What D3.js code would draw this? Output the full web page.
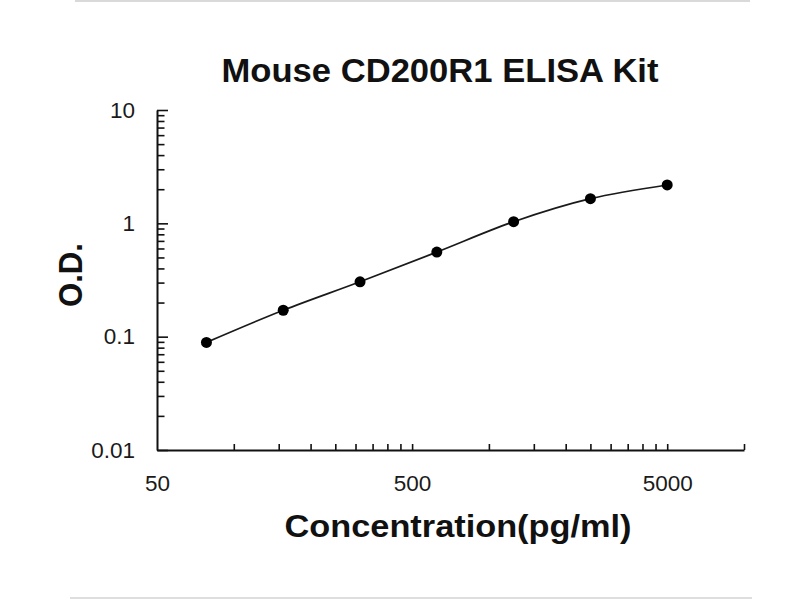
<!DOCTYPE html>
<html>
<head>
<meta charset="utf-8">
<script src="https://cdn.jsdelivr.net/npm/d3@7"></script>
<style>
  body { margin: 0; background: #fff; }
  svg { display: block; }
</style>
</head>
<body>
<div id="chart"></div>
<script>
// standard curve: concentration (pg/ml) vs O.D.
const concentrations = [78.125, 156.25, 312.5, 625, 1250, 2500, 5000];
const odValues = [0.089, 0.171, 0.305, 0.558, 1.033, 1.65, 2.18];

const xTickLabels = [50, 500, 5000];
const yTickLabels = [0.01, 0.1, 1, 10];

const W = 800, H = 600;
const margin = {top: 110, right: 56, bottom: 150, left: 157};

const svg = d3.select("#chart")
    .append("svg")
    .attr("width", W)
    .attr("height", H);

// faint frame lines of the original picture
svg.append("line")
    .attr("x1", 75).attr("x2", 750).attr("y1", 1).attr("y2", 1)
    .attr("stroke", "#d9d9d9").attr("stroke-width", 2);
svg.append("line")
    .attr("x1", 70).attr("x2", 752).attr("y1", 598).attr("y2", 598)
    .attr("stroke", "#dedede").attr("stroke-width", 2);

const x = d3.scaleLog()
    .domain([50, 10000])
    .range([margin.left, W - margin.right]);

const y = d3.scaleLog()
    .domain([0.01, 10])
    .range([H - margin.bottom, margin.top]);

// minor tick positions from the label decades
const xMinor = [];
xTickLabels.forEach(d => {
    for (let k = 2; k <= 10; k++) {
        const v = d * k;
        if (v <= 10000) xMinor.push(v);
    }
});
const yMinor = [];
yTickLabels.slice(0, -1).forEach(d => {
    for (let k = 2; k <= 9; k++) yMinor.push(d * k);
});

const fontTicks = "'Liberation Sans', Arial, sans-serif";

// y axis
const yAxisMinor = svg.append("g")
    .attr("transform", `translate(${margin.left},0)`)
    .call(d3.axisLeft(y).tickValues(yMinor).tickSize(-7.5).tickFormat(""));
yAxisMinor.select(".domain").remove();

const yAxis = svg.append("g")
    .attr("transform", `translate(${margin.left},0)`)
    .call(d3.axisLeft(y)
        .tickValues(yTickLabels)
        .tickSizeInner(-11)
        .tickSizeOuter(0)
        .tickPadding(22)
        .tickFormat(d => String(d)));

// x axis
const xAxis = svg.append("g")
    .attr("transform", `translate(0,${H - margin.bottom})`)
    .call(d3.axisBottom(x).tickValues(xMinor).tickSizeInner(-6).tickSizeOuter(0).tickFormat(""));

const xLabels = svg.append("g")
    .attr("transform", `translate(0,${H - margin.bottom})`)
    .call(d3.axisBottom(x).tickValues(xTickLabels).tickSize(0).tickPadding(25).tickFormat(d => String(d)));
xLabels.select(".domain").remove();

svg.selectAll(".domain").attr("stroke", "#111").attr("stroke-width", 2);
svg.selectAll(".tick line").attr("stroke", "#111").attr("stroke-width", 1.6);
svg.selectAll(".tick text")
    .attr("fill", "#1a1a1a")
    .style("font-family", fontTicks)
    .style("font-size", "22.5px");

// curve
const line = d3.line()
    .x((d, i) => x(concentrations[i]))
    .y(d => y(d))
    .curve(d3.curveCatmullRom.alpha(0.5));

svg.append("path")
    .datum(odValues)
    .attr("fill", "none")
    .attr("stroke", "#1a1a1a")
    .attr("stroke-width", 1.7)
    .attr("d", line);

svg.selectAll("circle.pt")
    .data(odValues)
    .enter()
    .append("circle")
    .attr("class", "pt")
    .attr("cx", (d, i) => x(concentrations[i]))
    .attr("cy", d => y(d))
    .attr("r", 5.5)
    .attr("fill", "#000");

// titles
const fontBold = "'Liberation Sans', Arial, sans-serif";

svg.append("text")
    .attr("x", 440)
    .attr("y", 82)
    .attr("text-anchor", "middle")
    .attr("textLength", 437)
    .attr("lengthAdjust", "spacingAndGlyphs")
    .style("font-family", fontBold)
    .style("font-weight", "bold")
    .style("font-size", "33px")
    .attr("fill", "#111")
    .text("Mouse CD200R1 ELISA Kit");

svg.append("text")
    .attr("x", 458)
    .attr("y", 537)
    .attr("text-anchor", "middle")
    .attr("textLength", 347)
    .attr("lengthAdjust", "spacingAndGlyphs")
    .style("font-family", fontBold)
    .style("font-weight", "bold")
    .style("font-size", "31px")
    .attr("fill", "#111")
    .text("Concentration(pg/ml)");

svg.append("text")
    .attr("transform", "translate(82,275) rotate(-90)")
    .attr("text-anchor", "middle")
    .attr("textLength", 64)
    .attr("lengthAdjust", "spacingAndGlyphs")
    .style("font-family", fontBold)
    .style("font-weight", "bold")
    .style("font-size", "34px")
    .attr("fill", "#111")
    .text("O.D.");
</script>
</body>
</html>
